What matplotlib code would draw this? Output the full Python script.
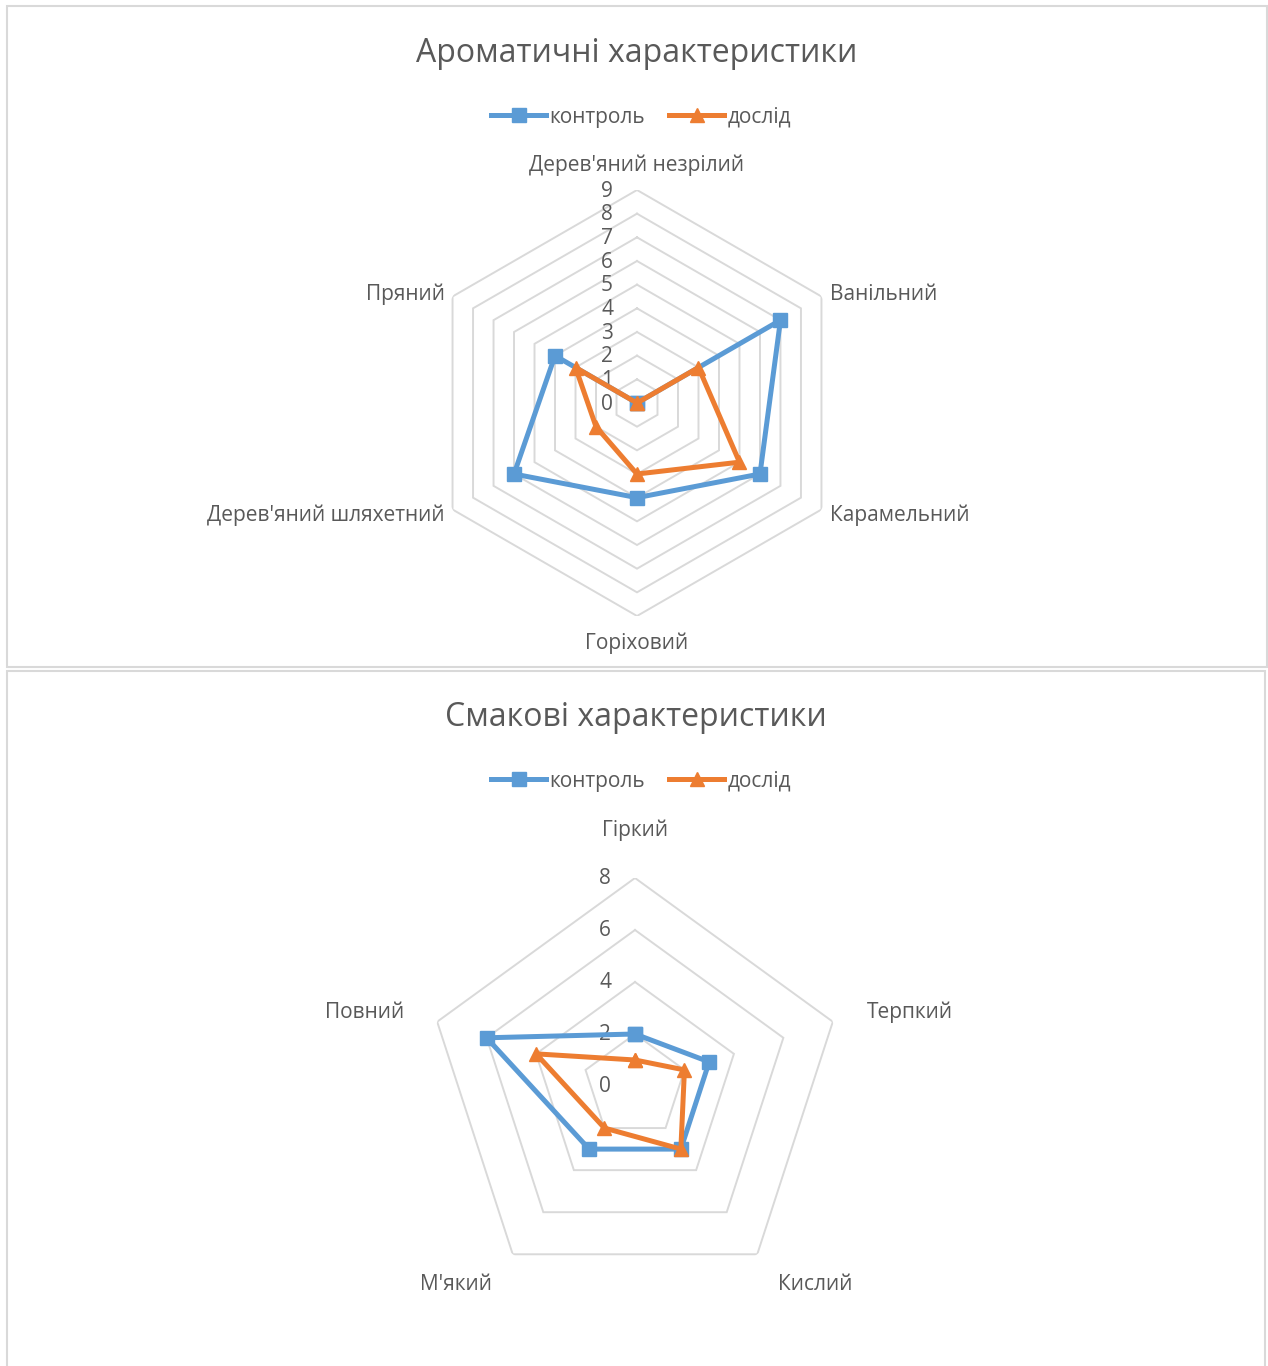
import numpy as np
import matplotlib
matplotlib.use("Agg")
import matplotlib.pyplot as plt
from matplotlib.lines import Line2D
from matplotlib.patches import Rectangle

plt.rcParams['font.family'] = ['Open Sans', 'DejaVu Sans']

# ---- data ----
aroma_categories = ["Дерев'яний незрілий", "Ванільний", "Карамельний",
                    "Горіховий", "Дерев'яний шляхетний", "Пряний"]
aroma_control = [0, 7, 6, 4, 6, 4]
aroma_test = [0, 3, 5, 3, 2, 3]
aroma_ticks = [0, 1, 2, 3, 4, 5, 6, 7, 8, 9]

taste_categories = ["Гіркий", "Терпкий", "Кислий", "М'який", "Повний"]
taste_control = [2, 3, 3, 3, 6]
taste_test = [1, 2, 3, 2, 4]
taste_ticks = [0, 2, 4, 6, 8]

series_names = ["контроль", "дослід"]
titles = ["Ароматичні характеристики", "Смакові характеристики"]

BLUE = "#5B9BD5"
ORANGE = "#ED7D31"
GRID = "#D9D9D9"
TEXT = "#595959"
LABEL_FS = 15
LW = 3.6

W, H = 1268, 1366
fig = plt.figure(figsize=(W / 100, H / 100), dpi=100)
fig.patch.set_facecolor("white")


def px_axes(cx, cy, r):
    return [(cx - r) / W, (H - (cy + r)) / H, 2 * r / W, 2 * r / H]


def radar(cx, cy, r, cats, control, test, ticks, label_offsets):
    ax = fig.add_axes(px_axes(cx, cy, r), projection="polar")
    ax.set_theta_offset(np.pi / 2)
    ax.set_theta_direction(-1)
    n = len(cats)
    theta = np.arange(n) * 2 * np.pi / n
    closed = np.append(theta, theta[0])
    rmax = ticks[-1]
    ax.set_ylim(0, rmax)
    ax.grid(False)
    ax.set_xticks([])
    ax.set_yticks([])
    ax.spines["polar"].set_visible(False)
    ax.patch.set_alpha(0)

    # polygonal gridlines
    for t in ticks[1:]:
        ax.plot(closed, [t] * (n + 1), color=GRID, lw=1.4, zorder=1,
                solid_joinstyle="miter")

    # radial value labels along the top spoke
    for t in ticks:
        ax.annotate(str(t), xy=(0, t), xytext=(-24, -1), textcoords="offset pixels",
                    ha="right", va="center", fontsize=LABEL_FS, color=TEXT,
                    annotation_clip=False)

    # category labels
    for th, name, (dx, dy, ha) in zip(theta, cats, label_offsets):
        ax.annotate(name, xy=(th, rmax), xytext=(dx, dy - 2), textcoords="offset pixels",
                    ha=ha, va="center", fontsize=LABEL_FS, color=TEXT,
                    annotation_clip=False)

    ax.plot(closed, np.append(control, control[0]), color=BLUE, lw=LW,
            marker="s", ms=9.5, zorder=3, clip_on=False)
    ax.plot(closed, np.append(test, test[0]), color=ORANGE, lw=LW,
            marker="^", ms=10, zorder=4, clip_on=False)
    return ax


# top chart
radar(637, 403, 213, aroma_categories, aroma_control, aroma_test, aroma_ticks,
      [(0, 27, "center"), (9, 4, "left"), (9, -4, "left"),
       (0, -25, "center"), (-8, -4, "right"), (-8, 4, "right")])

# bottom chart
radar(635, 1086, 208, taste_categories, taste_control, taste_test, taste_ticks,
      [(0, 50, "center"), (34, 11, "left"), (58, -28, "center"),
       (-57, -28, "center"), (-33, 11, "right")])

# chart frames
for (x0, y0, x1, y1) in [(7, 6, 1267, 667), (7, 671, 1265, 1380)]:
    fig.add_artist(Rectangle((x0 / W, 1 - y1 / H), (x1 - x0) / W, (y1 - y0) / H,
                             transform=fig.transFigure, fill=False,
                             edgecolor=GRID, lw=1.5))

# titles
fig.text(637 / W, 1 - 54 / H, titles[0], ha="center", va="center",
         fontsize=23, color=TEXT)
fig.text(636 / W, 1 - 718 / H, titles[1], ha="center", va="center",
         fontsize=23, color=TEXT)

# legends
handles = [Line2D([], [], color=BLUE, lw=LW, marker="s", ms=9.5),
           Line2D([], [], color=ORANGE, lw=LW, marker="^", ms=10)]
for ly in (117, 781):
    fig.legend(handles, series_names, loc="center", ncol=2,
               bbox_to_anchor=(641 / W, 1 - ly / H), frameon=False,
               fontsize=LABEL_FS, labelcolor=TEXT, handlelength=2.65,
               handletextpad=0.15, columnspacing=1.15)

fig.savefig("out.png", dpi=100, facecolor="white")
